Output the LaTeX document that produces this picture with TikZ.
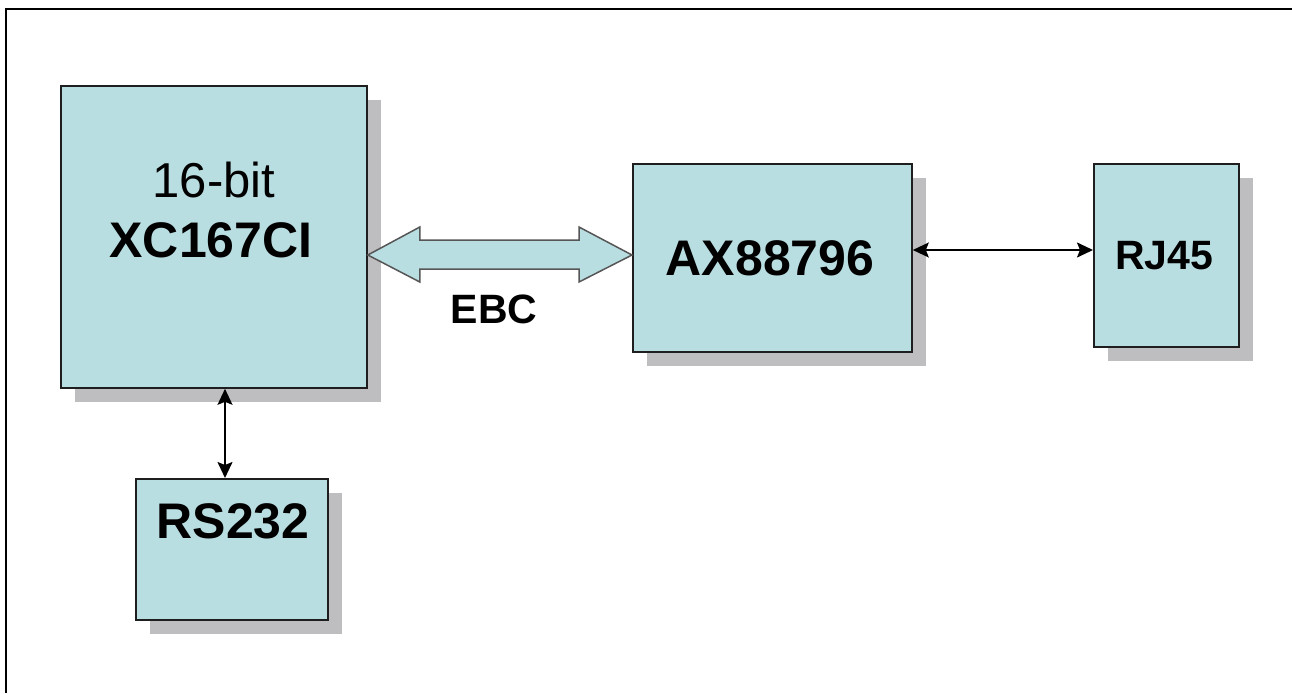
\documentclass[tikz,border=0pt]{standalone}
\usepackage{fontspec}
\setmainfont{Liberation Sans}
\usetikzlibrary{arrows.meta,shadows,calc}
\definecolor{boxfill}{RGB}{185,222,226}
\definecolor{shadowgray}{RGB}{190,190,192}
\definecolor{edgecol}{RGB}{30,30,30}
\begin{document}
\begin{tikzpicture}[x=1pt,y=-1pt,
  blk/.style={draw=edgecol,line width=1.8pt,fill=boxfill,anchor=north west,inner sep=0pt,
    drop shadow={shadow xshift=14pt,shadow yshift=-14pt,fill=shadowgray,opacity=1}},
  lbl/.style={anchor=base,inner sep=0pt,font=\bfseries\fontsize{50}{50}\selectfont},
  small/.style={anchor=base,inner sep=0pt,font=\bfseries\fontsize{41}{41}\selectfont},
  tip/.tip={Stealth[length=16pt,width=15pt,inset=3pt]},
  thinarrow/.style={line width=1.8pt,tip-tip},
  fatarrow/.style={draw=edgecol!75,line width=1.5pt,fill=boxfill,line join=miter}]
\useasboundingbox (0,0) rectangle (1292,693);
\fill[white] (0,0) rectangle (1292,693);
% frame (top and left only)
\draw[line width=2.6pt] (6,693) -- (6,9) -- (1292,9);

% blocks
\node[blk,minimum width=306pt,minimum height=302pt] (xc) at (60,85) {};
\node[blk,minimum width=279pt,minimum height=188pt] (ax) at (632,163) {};
\node[blk,minimum width=145pt,minimum height=183pt] (rj) at (1093,163) {};
\node[blk,minimum width=192pt,minimum height=141pt] (rs) at (135,478) {};

% labels
\node[anchor=base,inner sep=0pt,font=\fontsize{49}{49}\selectfont] (t16) at (214,197) {16-bit};
\node[lbl] (txc) at (211,257) {XC167CI};
\node[lbl] (tax) at (770,275) {AX88796};
\node[small] (trj) at (1164,269) {RJ45};
\node[lbl] (trs) at (233,538) {RS232};
\node[small] (tebc) at (494,323) {EBC};

% EBC fat double arrow
\coordinate (ebcL) at (xc.east |- 0,255);
\coordinate (ebcR) at (ax.west |- 0,255);
\draw[fatarrow] (ebcL) -- ($(ebcL)+(52,-28)$) -- ($(ebcL)+(52,-15)$)
  -- ($(ebcR)+(-53,-15)$) -- ($(ebcR)+(-53,-28)$) -- (ebcR)
  -- ($(ebcR)+(-53,27)$) -- ($(ebcR)+(-53,14)$)
  -- ($(ebcL)+(52,14)$) -- ($(ebcL)+(52,27)$) -- cycle;

% thin arrows
\coordinate (rsx) at (225,0);
\draw[thinarrow] (xc.south -| rsx) -- (rs.north -| rsx);
\coordinate (rjy) at (0,250);
\draw[thinarrow] (ax.east |- rjy) -- (rj.west |- rjy);
\end{tikzpicture}
\end{document}
